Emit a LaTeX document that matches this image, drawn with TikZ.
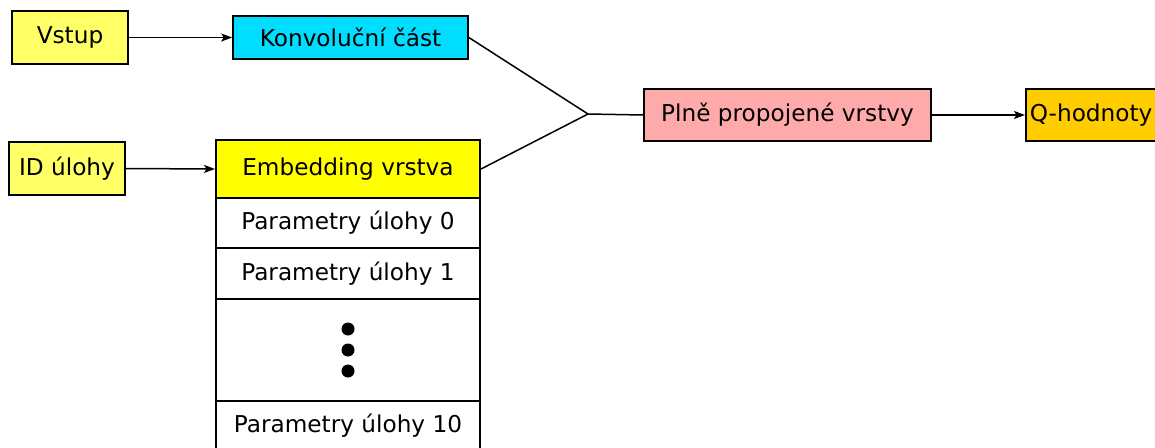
\documentclass[tikz,border=0pt]{standalone}
\usepackage{fontspec}
\setmainfont{DejaVu Sans}
\usetikzlibrary{arrows.meta}
\definecolor{lyellow}{RGB}{255,255,102}
\definecolor{kcyan}{RGB}{0,221,255}
\definecolor{ppink}{RGB}{255,170,170}
\definecolor{qorange}{RGB}{255,204,0}
\definecolor{eyellow}{RGB}{255,255,0}
\tikzset{
  box/.style={draw=black, line width=1.6pt, inner sep=0pt, font=\fontsize{23.2}{28}\selectfont},
  cell/.style={box, line width=2pt, fill=white, minimum width=264pt},
  conn/.style={line width=1.5pt},
  arr/.style={conn, -{Stealth[length=11pt,width=8pt,inset=2.5pt]}}
}
\begin{document}
\begin{tikzpicture}[x=1pt,y=-1pt]
\useasboundingbox (0,0) rectangle (1155,447);
\clip (0,0) rectangle (1155,447);
\node[box, fill=lyellow, minimum width=116pt, minimum height=53pt] (vstup) at (70,37.5) {Vstup};
\node[box, fill=kcyan, minimum width=235pt, minimum height=43pt] (konv) at (350.5,37.5) {Konvoluční část};
\node[box, fill=lyellow, minimum width=116pt, minimum height=53pt] (id) at (67,168.5) {ID úlohy};
\node[cell, fill=eyellow, minimum height=58pt] (emb) at (348,169) {Embedding vrstva};
\node[cell, minimum height=50pt] (p0) at (348,223) {Parametry úlohy 0};
\node[cell, minimum height=51pt] (p1) at (348,273.5) {Parametry úlohy 1};
\node[cell, minimum height=102pt] (dots) at (348,350) {};
\node[cell, minimum height=50pt] (p10) at (348,426) {Parametry úlohy 10};
\fill (348,329) circle (6.5pt) (348,350) circle (6.5pt) (348,371) circle (6.5pt);
\node[box, fill=ppink, minimum width=287pt, minimum height=52pt] (fc) at (787.5,115) {Plně propojené vrstvy};
\node[box, fill=qorange, anchor=west, minimum height=52pt, text width=135pt, inner xsep=4pt, align=left] (q) at (1025,115) {Q-hodnoty};
\coordinate (m) at (588,114);
\draw[arr] (vstup.east) -- (konv.west);
\draw[arr] (id.east) -- (emb.west);
\draw[conn] (konv.east) -- (m);
\draw[conn] (emb.east) -- (m);
\draw[conn] (m) -- (fc.west);
\draw[arr] (fc.east) -- (q.west);
\end{tikzpicture}
\end{document}
